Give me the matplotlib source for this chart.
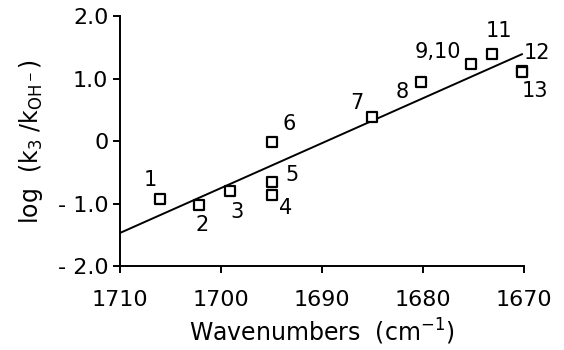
import matplotlib
matplotlib.use('Agg')
import matplotlib.pyplot as plt
import numpy as np

plt.rcParams['font.family'] = ['DejaVu Sans']
plt.rcParams['mathtext.default'] = 'regular'

# compound number, wavenumber (cm-1), log(k3/kOH-)
labels = ['1', '2', '3', '4', '5', '6', '7', '8', '9,10', '11', '12', '13']
wavenumbers = [1706.1, 1702.2, 1699.1, 1695.0, 1695.0, 1695.0, 1685.1, 1680.2, 1675.2, 1673.2, 1670.2, 1670.2]
log_ratio = [-0.93, -1.03, -0.80, -0.86, -0.66, -0.01, 0.38, 0.95, 1.24, 1.40, 1.12, 1.11]

# label offsets in pixels
offsets = [(-9, 19), (3, -20), (7, -21), (14, -13), (20, 7), (18, 18),
           (-15, 14), (-19, -10), (-34, 12), (7, 23), (15, 18), (13, -19)]

fit_x = [1710, 1670.2]
fit_y = [-1.47, 1.39]

fig = plt.figure(figsize=(5.64, 3.5), dpi=100)
ax = fig.add_axes([0.213, 0.24, 0.716, 0.714])

ax.plot(fit_x, fit_y, color='black', lw=1.4)
ax.scatter(wavenumbers, log_ratio, marker='s', s=45, facecolors='white',
           edgecolors='black', linewidths=1.6, zorder=3, clip_on=False)

for lab, x, y, off in zip(labels, wavenumbers, log_ratio, offsets):
    ax.annotate(lab, (x, y), xytext=off, textcoords='offset pixels',
                ha='center', va='center', fontsize=15)

ax.set_xlim(1710, 1670)
ax.set_ylim(-2.0, 2.0)
ax.set_xticks([1710, 1700, 1690, 1680, 1670])
ax.set_yticks([-2.0, -1.0, 0, 1.0, 2.0])
ax.set_yticklabels(['- 2.0', '- 1.0', '0', '1.0', '2.0'])

for s in ['top', 'right']:
    ax.spines[s].set_visible(False)
for s in ['left', 'bottom']:
    ax.spines[s].set_linewidth(1.4)
ax.tick_params(direction='out', length=5, width=1.4, labelsize=16)
ax.tick_params(axis='x', pad=12)

ax.set_xlabel('Wavenumbers  (cm$^{-1}$)', fontsize=17, labelpad=5)
ax.set_ylabel('log  (k$_3$ /k$_{OH^-}$)', fontsize=17, labelpad=9)

fig.savefig('out.png', dpi=100)
